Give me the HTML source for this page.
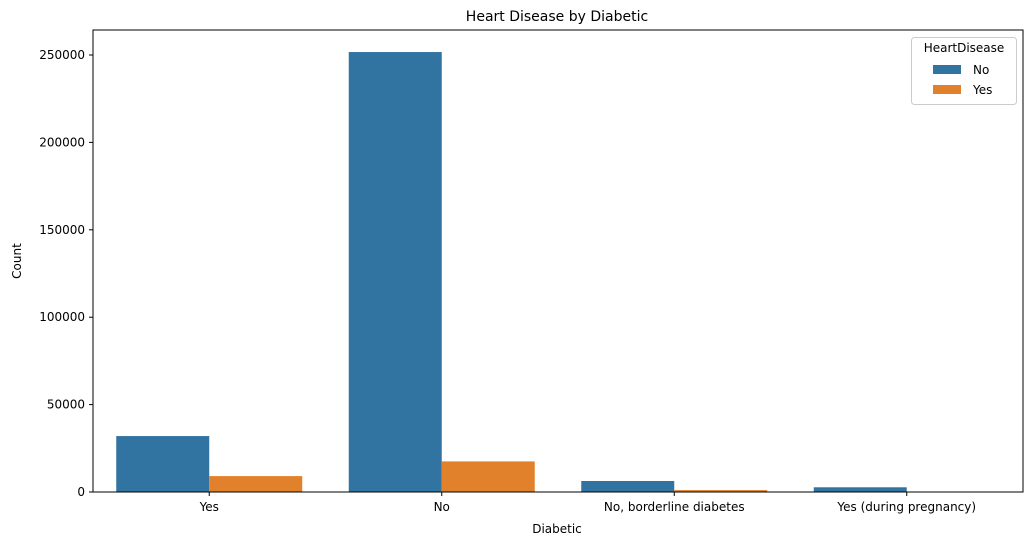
<!DOCTYPE html>
<html><head><meta charset="utf-8"><style>body{margin:0;background:#fff}svg{display:block;font-family:"DejaVu Sans","Liberation Sans",sans-serif}</style></head>
<body>
<svg id="chart" width="1032" height="545" viewBox="0 0 1032 545" xmlns="http://www.w3.org/2000/svg">
<rect width="1032" height="545" fill="#fff"/>
<text x="557" y="21" font-size="14" text-anchor="middle">Heart Disease by Diabetic</text>
<g id="bars"></g>
<g id="axes"></g>
<rect x="93" y="30" width="930" height="462" fill="none" stroke="#000" stroke-width="1"/>
<text x="557" y="533" font-size="12" text-anchor="middle">Diabetic</text>
<text x="21" y="261" font-size="12" text-anchor="middle" transform="rotate(-90 21 261)">Count</text>
<g>
<rect x="911.5" y="37.5" width="105" height="67" rx="3" fill="#fff" fill-opacity="0.8" stroke="#ccc"/>
<text x="964" y="52" font-size="12" text-anchor="middle">HeartDisease</text>
<rect x="933" y="65" width="28" height="9" fill="#3274a1"/>
<text x="973" y="74" font-size="12">No</text>
<rect x="933" y="85" width="28" height="9" fill="#e1812c"/>
<text x="973" y="94" font-size="12">Yes</text>
</g>
</svg>
<script>
const categories = ["Yes", "No", "No, borderline diabetes", "Yes (during pregnancy)"];
const seriesNo = [32000, 251700, 6300, 2700];
const seriesYes = [9100, 17500, 1100, 100];
const yTicks = [0, 50000, 100000, 150000, 200000, 250000];

const NS = "http://www.w3.org/2000/svg";
const L = 93, R = 1023, B = 492, T = 30;
const yScale = v => B - v * (437 / 250000);
const band = (R - L) / categories.length;
const xCenter = i => L + band * (i + 0.5);
const bw = band * 0.4;
const bars = document.getElementById('bars');
const axes = document.getElementById('axes');
function mk(tag, attrs, parent) { const e = document.createElementNS(NS, tag); for (const k in attrs) e.setAttribute(k, attrs[k]); parent.appendChild(e); return e; }
categories.forEach((c, i) => {
  [[seriesNo, '#3274a1', -1, 'no'], [seriesYes, '#e1812c', 0, 'yes']].forEach(([s, col, off, nm]) => {
    const y = yScale(s[i]);
    const r = mk('rect', { x: xCenter(i) + off * bw, y: y, width: bw, height: B - y, fill: col }, bars);
    
    
  });
  mk('line', { x1: xCenter(i), x2: xCenter(i), y1: B, y2: B + 4, stroke: '#000' }, axes);
  const t = mk('text', { x: xCenter(i), y: B + 19, 'font-size': 12, 'text-anchor': 'middle' }, axes);
  t.textContent = c;
  
  
});
yTicks.forEach(v => {
  const y = yScale(v);
  mk('line', { x1: L - 4, x2: L, y1: y, y2: y, stroke: '#000' }, axes);
  const t = mk('text', { x: L - 8, y: y + 4, 'font-size': 12, 'text-anchor': 'end' }, axes);
  t.textContent = v;
  
  
});
</script>
</body></html>
